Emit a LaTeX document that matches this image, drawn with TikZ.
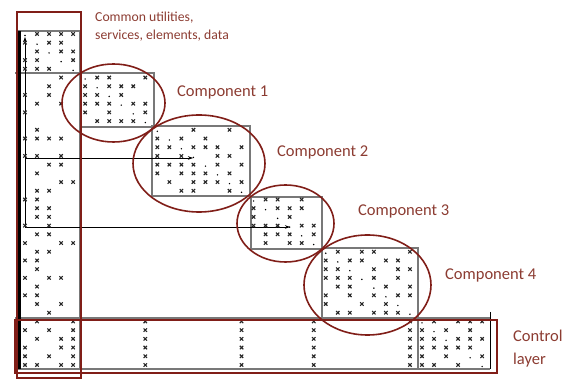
\documentclass[tikz,border=0pt]{standalone}
\usepackage{fontspec}
\setmainfont{Carlito}
\usetikzlibrary{arrows.meta,shapes.geometric}
\definecolor{dred}{RGB}{128,30,24}
\definecolor{tred}{RGB}{140,60,50}
\definecolor{gline}{RGB}{120,120,120}
\begin{document}
\begin{tikzpicture}[x=1pt,y=-1pt,
  gridline/.style={gline, line width=2.8pt},
  redline/.style={dred, line width=1.6pt},
  ell/.style={draw=dred, line width=1.6pt, ellipse, inner sep=0, outer sep=0},
  lbl/.style={text=tred, font=\fontsize{16.5}{20}\selectfont, inner sep=0, anchor=west},
  ptr/.style={black, line width=0.6pt, -{Stealth[length=5pt,width=3.5pt]}},
  xmk/.style={black!85, line width=1.1pt},
]
\useasboundingbox (0,0) rectangle (571,379);
% grey block outlines
\draw[gridline] (17,31) -- (80,31);
\draw[gridline] (80,31) -- (80,369);
\draw[gridline] (15,73) -- (80,73);
\draw[gridline] (80,73) rectangle (154,127);
\draw[gridline] (152,126) rectangle (250,196);
\draw[gridline] (251,197) rectangle (322,249);
\draw[gridline] (322,248) rectangle (418,318);
\draw[gridline] (15,318) -- (490,318);
\draw[gridline] (15,369) -- (490,369);
\draw[gridline] (418,318) -- (418,369);
% black lines
\draw[black, line width=3pt] (19.5,31) -- (19.5,369);
\draw[black, line width=0.8pt] (490,312) -- (490,369);
\coordinate (p0) at (25,227);
\coordinate (p1) at (25,37);
\coordinate (p2) at (25,158);
\coordinate (p3) at (193,158);
\coordinate (p4) at (290,227);
\draw[ptr] (p0) -- (p1);
\draw[ptr] (p2) -- (p3);
\draw[ptr] (p0) -- (p4);
% x marks
\foreach \r/\cl in {
  0/{1,2,3,4}, 1/{0,2,3}, 2/{1,3,4}, 3/{0,1,4}, 4/{0,1,2},
  5/{3,6,7,10}, 6/{2,5,7,8,9}, 7/{0,2,5,6,8}, 8/{1,3,5,6,7,9,10},
  9/{0,5,7,10}, 10/{6,7,8,9},
  11/{1,14,17}, 12/{0,1,2,3,11,13,15}, 13/{11,12,14,15,16,18},
  14/{0,1,3,11,13,16,17}, 15/{2,3,11,12,13,14,16,18},
  16/{1,11,13,14,15,17}, 17/{3,4,12,14,15,16,18}, 18/{1,2,13,14,17},
  19/{0,1,20,21,23}, 20/{1,2,19,21,22,23}, 21/{1,2,19,22},
  22/{0,2,19,20,21,23,24}, 23/{1,2,20,21,22,24}, 24/{0,3,4,20,22,23},
  25/{1,2,26,28,29,32}, 26/{0,1,25,27,28,30,31}, 27/{1,25,26,29,31,32},
  28/{0,2,3,25,26,27,29,31}, 29/{1,26,27,30,32}, 30/{0,1,25,27,29,31,32},
  31/{1,3,25,28,30}, 32/{2,26,27,29,30,31},
  33/{1,4,10,18,24,32,34,36,37,38}, 34/{0,2,4,10,18,24,32,33,35,37},
  35/{1,3,4,10,18,24,32,33,34,36,37,38}, 36/{0,3,4,10,18,24,32,33,34,35,36,37},
  37/{0,2,4,10,18,24,32,33,35,38}, 38/{0,1,3,4,10,18,24,32,33,34,36}}{
  \foreach \c in \cl {
    \draw[xmk] ({25+12.03*\c-1.7},{34+8.71*\r-1.7}) -- +(3.4,3.4)
               ({25+12.03*\c-1.7},{34+8.71*\r+1.7}) -- +(3.4,-3.4);
  }
}
% diagonal dots
\foreach \i in {0,...,35,37,38}
  \fill[black] ({25+12.03*\i},{34+8.71*\i+1.5}) circle[radius=0.8pt];
% red frames
\draw[redline] (17,12) rectangle (81,378);
\draw[redline] (15,320) rectangle (497,373);
% ellipses
\node[ell, minimum width=103pt, minimum height=78pt] (e1) at (113.5,103) {};
\node[ell, minimum width=132pt, minimum height=97pt] (e2) at (199,163.5) {};
\node[ell, minimum width=97pt, minimum height=77pt] (e3) at (285.5,223.5) {};
\node[ell, minimum width=127pt, minimum height=100pt] (e4) at (367.5,285) {};
% labels
\node[anchor=north west, inner sep=0, align=left, text=tred,
      font=\fontsize{13.7}{17.7}\selectfont] (cu) at (95,12)
      {Common utilities,\\services, elements, data};
\node[lbl] (c1) at (177,92) {Component 1};
\node[lbl] (c2) at (277,152) {Component 2};
\node[lbl] (c3) at (358,211) {Component 3};
\node[lbl] (c4) at (445,275) {Component 4};
\node[lbl, align=left, font=\fontsize{16.5}{23}\selectfont] (cl) at (513,349) {Control\\layer};
\end{tikzpicture}
\end{document}
